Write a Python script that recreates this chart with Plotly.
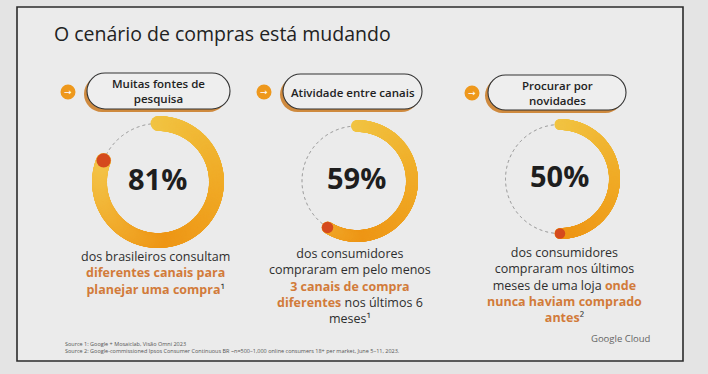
import numpy as np
import plotly.graph_objects as go

W, H = 708, 374

# ---------------- data ----------------
title = "O cenário de compras está mudando"
percentages = [81, 59, 50]
pill_labels = ["Muitas fontes de<br>pesquisa", "Atividade entre canais", "Procurar por<br>novidades"]
HL = "<span style='color:#D27B3A'><b>{}</b></span>"
descriptions = [
    "dos brasileiros consultam<br>" + HL.format("diferentes canais para") + "<br>" + HL.format("planejar uma compra") + "¹",
    "dos consumidores<br>compraram em pelo menos<br>" + HL.format("3 canais de compra") + "<br>" + HL.format("diferentes") + " nos últimos 6<br>meses¹",
    "dos consumidores<br>compraram nos últimos<br>meses de uma loja " + HL.format("onde") + "<br>" + HL.format("nunca haviam comprado") + "<br>" + HL.format("antes") + "²",
]
sources = [
    "Source 1: Google + Mosaiclab, Visão Omni 2023",
    "Source 2: Google-commissioned Ipsos Consumer Continuous BR ~n=500–1,000 online consumers 18+ per market, June 5–11, 2023.",
]
brand = "Google Cloud"

# ---------------- layout constants (pixels) ----------------
rings = [  # cx, cy, outer radius, thickness
    (158, 182, 66, 15),
    (357, 181, 61, 12),
    (560, 179, 60, 11),
]
pills = [(87, 73, 230, 109), (283, 74, 422, 109), (488, 75, 626, 110)]
pill_text_x = [158, 353, 557]
pill_text_y = [91, 92, 93]
arrows = [(68, 92), (264, 92), (472, 93)]
desc_pos = [(155, 273), (350, 286), (564, 285)]

FONT = "Open Sans"
ring_scale = [[0.0, "#F1C443"], [0.25, "#F0AC28"], [0.5, "#EE9616"],
              [0.72, "#F2B83A"], [0.85, "#F4C84E"], [1.0, "#F4C84E"]]


def X(px):
    return px / W


def Y(py):
    return 1 - py / H


fig = go.Figure()

shapes = []
shapes.append(dict(type="rect", xref="paper", yref="paper", x0=X(17), y0=Y(7), x1=X(683), y1=Y(361),
                   fillcolor="#EBEBEB", line=dict(color="#2B2B2B", width=1.6), layer="below"))


def pill_path(x0, y0, x1, y1):
    r = (y1 - y0) / 2
    k = 0.5523 * r
    pts = [
        ("M", [(x0 + r, y0)]), ("L", [(x1 - r, y0)]),
        ("C", [(x1 - r + k, y0), (x1, y0 + r - k), (x1, y0 + r)]),
        ("C", [(x1, y0 + r + k), (x1 - r + k, y1), (x1 - r, y1)]),
        ("L", [(x0 + r, y1)]),
        ("C", [(x0 + r - k, y1), (x0, y0 + r + k), (x0, y0 + r)]),
        ("C", [(x0, y0 + r - k), (x0 + r - k, y0), (x0 + r, y0)]),
    ]
    s = ""
    for cmd, ps in pts:
        s += cmd + " " + " ".join(f"{X(a):.5f},{Y(b):.5f}" for a, b in ps) + " "
    return s + "Z"


for (x0, y0, x1, y1) in pills:
    shapes.append(dict(type="path", xref="paper", yref="paper", path=pill_path(x0 - 3, y0 + 3, x1 - 3, y1 + 3),
                       fillcolor="#CF8A3E", line=dict(width=0), layer="above"))
    shapes.append(dict(type="path", xref="paper", yref="paper", path=pill_path(x0, y0, x1, y1),
                       fillcolor="#EEEEEE", line=dict(color="#333333", width=1.1), layer="above"))

for (ax, ay) in arrows:
    shapes.append(dict(type="circle", xref="paper", yref="paper", x0=X(ax - 7.5), y0=Y(ay + 7.5),
                       x1=X(ax + 7.5), y1=Y(ay - 7.5),
                       fillcolor="#EE981C", line=dict(width=0), layer="above"))

fig.update_layout(shapes=shapes)

for i, (pct, (cx, cy, R, t)) in enumerate(zip(percentages, rings)):
    pid = "polar" if i == 0 else f"polar{i+1}"
    fig.update_layout(**{pid: dict(
        domain=dict(x=[X(cx - R), X(cx + R)], y=[Y(cy + R), Y(cy - R)]),
        bgcolor="rgba(0,0,0,0)",
        radialaxis=dict(range=[0, R], visible=False),
        angularaxis=dict(rotation=90, direction="clockwise", visible=False),
        hole=0,
    )})
    rmid = R - t / 2
    end = pct * 3.6
    th_rest = np.linspace(end, 360, 200)
    fig.add_trace(go.Scatterpolar(r=np.full_like(th_rest, rmid), theta=th_rest, mode="lines",
                                  line=dict(color="#8E8E8E", width=1, dash="dot"),
                                  subplot=pid, showlegend=False, hoverinfo="skip"))
    th = np.linspace(0, end, 500)
    fig.add_trace(go.Scatterpolar(r=np.full_like(th, rmid), theta=th, mode="markers",
                                  marker=dict(size=t, color=th, cmin=0, cmax=360, colorscale=ring_scale,
                                              line=dict(width=0)),
                                  subplot=pid, showlegend=False, hoverinfo="skip"))
    fig.add_trace(go.Scatterpolar(r=[rmid], theta=[end], mode="markers",
                                  marker=dict(size=t * 0.95, color="#D54A1D", line=dict(width=0)),
                                  subplot=pid, showlegend=False, hoverinfo="skip"))

annotations = []


def ann(x, y, text, size, color, xanchor="center", weight=None, family=FONT):
    f = dict(family=family, size=size, color=color)
    if weight:
        f["weight"] = weight
    annotations.append(dict(x=X(x), y=Y(y), xref="paper", yref="paper", text=text, showarrow=False,
                            xanchor=xanchor, yanchor="middle", align="center", font=f))


ann(52, 33, title, 19.5, "#222222", xanchor="left")

for i, pct in enumerate(percentages):
    cx, cy, R, t = rings[i]
    ann(cx - 1, cy - 4, f"<b>{pct}%</b>", 29, "#1E1E1E")
    ann(pill_text_x[i], pill_text_y[i], pill_labels[i], 11.5, "#222222", weight=600)
    ax, ay = arrows[i]
    ann(ax, ay, "→", 9, "#FFFFFF", family="DejaVu Sans")
    dx, dy = desc_pos[i]
    ann(dx, dy, descriptions[i], 12.5, "#2E2E2E")

ann(63, 344, sources[0], 5.5, "#555555", xanchor="left")
ann(63, 350.5, sources[1], 5.5, "#555555", xanchor="left")
ann(652, 338, brand, 9.5, "#666666", xanchor="right")

fig.update_layout(
    annotations=annotations,
    width=W, height=H,
    margin=dict(l=0, r=0, t=0, b=0),
    paper_bgcolor="#E4E4E4",
    plot_bgcolor="rgba(0,0,0,0)",
    showlegend=False,
    xaxis=dict(visible=False),
    yaxis=dict(visible=False),
)

fig.write_html("out.html", config={"displayModeBar": False},
               post_script="document.body.style.margin='0';document.body.style.overflow='hidden';")
